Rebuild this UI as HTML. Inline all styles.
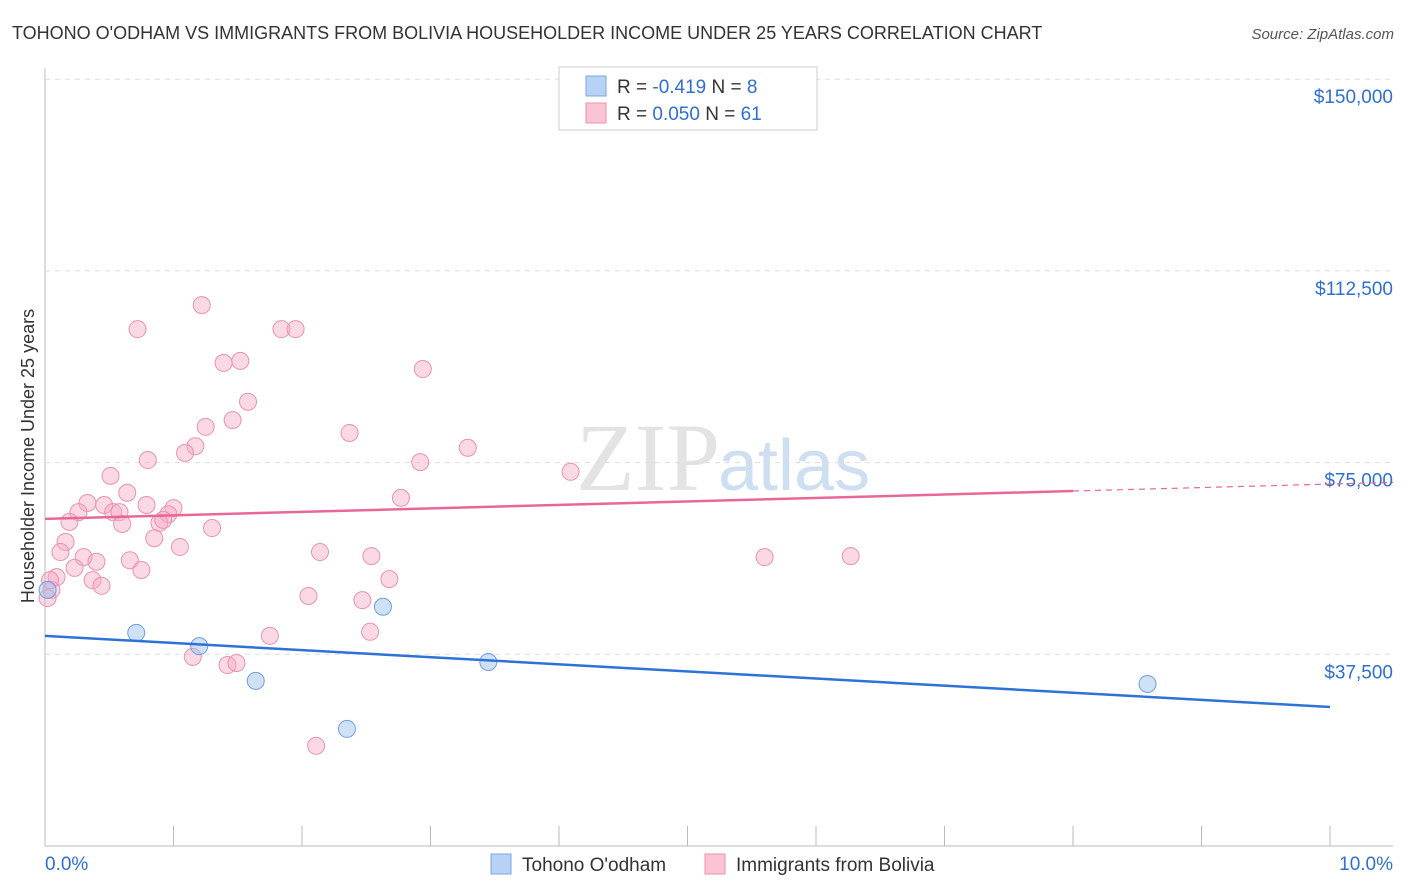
<!DOCTYPE html>
<html><head><meta charset="utf-8"><style>
body{margin:0;background:#fff;font-family:"Liberation Sans",sans-serif;}
#wrap{position:relative;width:1406px;height:892px;overflow:hidden;}
</style></head><body>
<div id="wrap">
<svg id="svg" width="1406" height="892" xmlns="http://www.w3.org/2000/svg">
<text x="12" y="39" font-size="18" fill="#333">TOHONO O'ODHAM VS IMMIGRANTS FROM BOLIVIA HOUSEHOLDER INCOME UNDER 25 YEARS CORRELATION CHART</text>
<text x="1394" y="39" font-size="15" fill="#555" font-style="italic" text-anchor="end">Source: ZipAtlas.com</text>
<text x="720" y="490" font-size="96" fill="#e3e3e3" font-family="Liberation Serif,serif" text-anchor="end">ZIP</text>
<text x="718" y="490" font-size="72" fill="#cfdff2">atlas</text>
<text transform="translate(34,456) rotate(-90)" font-size="18" fill="#333" text-anchor="middle">Householder Income Under 25 years</text>
<g id="grid"></g><g id="marks"></g>
<g>
<rect x="559" y="67" width="258" height="63" fill="#fff" stroke="#ccc"/>
<rect x="586" y="76" width="20" height="20" fill="#b7d2f5" stroke="#7aa7e0"/>
<rect x="586" y="103" width="20" height="20" fill="#f9c4d4" stroke="#eb92ae"/>
<text x="617" y="93" font-size="19" fill="#333">R = <tspan fill="#2f6fd1">-0.419</tspan>   N = <tspan fill="#2f6fd1"> 8</tspan></text>
<text x="617" y="120" font-size="19" fill="#333">R = <tspan fill="#2f6fd1"> 0.050</tspan>   N = <tspan fill="#2f6fd1">61</tspan></text>
</g>
<g>
<rect x="491" y="854" width="20" height="20" fill="#b7d2f5" stroke="#7aa7e0"/>
<text x="522" y="871" font-size="19" fill="#333">Tohono O'odham</text>
<rect x="705" y="854" width="20" height="20" fill="#f9c4d4" stroke="#eb92ae"/>
<text x="736" y="871" font-size="19" fill="#333">Immigrants from Bolivia</text>
</g>
</svg>
</div>
<script>
const xTicks=[0,1,2,3,4,5,6,7,8,9,10];
const yTicks=[37500,75000,112500,150000];
const yTickLabels=["$37,500","$75,000","$112,500","$150,000"];
const xTickLabels=["0.0%","10.0%"];
const blueX=[0.02,0.71,1.20,1.64,2.35,2.63,3.45,8.58];
const blueY=[50100,41700,39100,32300,22900,46800,36000,31700];
const pinkX=[1.22,0.72,1.84,1.95,1.39,1.52,2.94,1.58,1.46,1.25,2.37,3.29,1.17,1.09,0.80,2.92,4.09,0.51,0.64,2.77,0.33,0.79,0.46,1.00,0.26,0.53,0.58,0.96,0.19,0.60,0.89,0.92,1.30,0.85,0.16,1.05,0.12,2.14,2.54,5.60,6.27,0.30,0.66,0.40,0.75,0.23,0.09,0.37,2.68,0.44,0.05,2.05,2.47,1.75,2.53,1.15,1.42,1.49,2.11,0.02,0.04];
const pinkY=[105800,101100,101100,101100,94500,94900,93300,86900,83300,82000,80800,77900,78200,76900,75500,75100,73200,72400,69100,68100,67100,66700,66700,66100,65300,65300,65300,64900,63400,63000,63200,63800,62200,60200,59500,58500,57500,57500,56700,56500,56700,56500,55900,55600,54000,54400,52600,52000,52200,50900,50100,48900,48100,41100,41900,37000,35400,35800,19600,48500,52000];
const blueLine=[41100,27200];
const pinkLine=[64000,70800];
const pinkSolidEnd=8.0;
const NS="http://www.w3.org/2000/svg";
const X=v=>45+v*128.5, Y=v=>846-v/37500*191.7;
const grid=document.getElementById('grid'), marks=document.getElementById('marks');
function mk(tag,attrs,parent){const e=document.createElementNS(NS,tag);for(const k in attrs)e.setAttribute(k,attrs[k]);parent.appendChild(e);return e;}
let ax=mk('line',{x1:45,y1:68,x2:45,y2:846,stroke:'#bbb'},grid);


let bx=mk('line',{x1:45,y1:846,x2:1393,y2:846,stroke:'#bbb'},grid);


yTicks.forEach((t,i)=>{
 let g=mk('line',{x1:45,y1:Y(t),x2:1393,y2:Y(t),stroke:'#ddd','stroke-dasharray':'5,5'},grid);
 
 
 let tx=mk('text',{x:1393,y:Y(t)+24,'font-size':19,fill:'#2f6fd1','text-anchor':'end'},grid);
 tx.textContent=yTickLabels[i];
 
 
});
xTicks.forEach(t=>{
 let l=mk('line',{x1:X(t),y1:826,x2:X(t),y2:846,stroke:'#bbb'},grid);
 
 
});
[[0,xTickLabels[0],'start',45],[10,xTickLabels[1],'end',1393]].forEach(a=>{
 let tx=mk('text',{x:a[3],y:870,'font-size':19,fill:'#2f6fd1','text-anchor':a[2]},grid);
 tx.textContent=a[1];
 
 
});
pinkX.forEach((x,i)=>{
 let c=mk('circle',{cx:X(x),cy:Y(pinkY[i]),r:8.5,fill:'rgba(246,170,195,0.45)',stroke:'#eb92ae','stroke-width':1},marks);
 
 
});
blueX.forEach((x,i)=>{
 let c=mk('circle',{cx:X(x),cy:Y(blueY[i]),r:8.5,fill:'rgba(160,195,240,0.5)',stroke:'#6f9fe0','stroke-width':1},marks);
 
 
});
let bl=mk('line',{x1:X(0),y1:Y(blueLine[0]),x2:X(10),y2:Y(blueLine[1]),stroke:'#2f72d6','stroke-width':2.5},marks);


const pAt=x=>pinkLine[0]+(pinkLine[1]-pinkLine[0])*x/10;
let pl=mk('line',{x1:X(0),y1:Y(pinkLine[0]),x2:X(pinkSolidEnd),y2:Y(pAt(pinkSolidEnd)),stroke:'#e8679a','stroke-width':2.5},marks);


let pd=mk('line',{x1:X(pinkSolidEnd),y1:Y(pAt(pinkSolidEnd)),x2:1393,y2:Y(pAt((1393-45)/128.5)),stroke:'#e8679a','stroke-width':1.2,'stroke-dasharray':'6,5'},marks);


</script>
</body></html>
